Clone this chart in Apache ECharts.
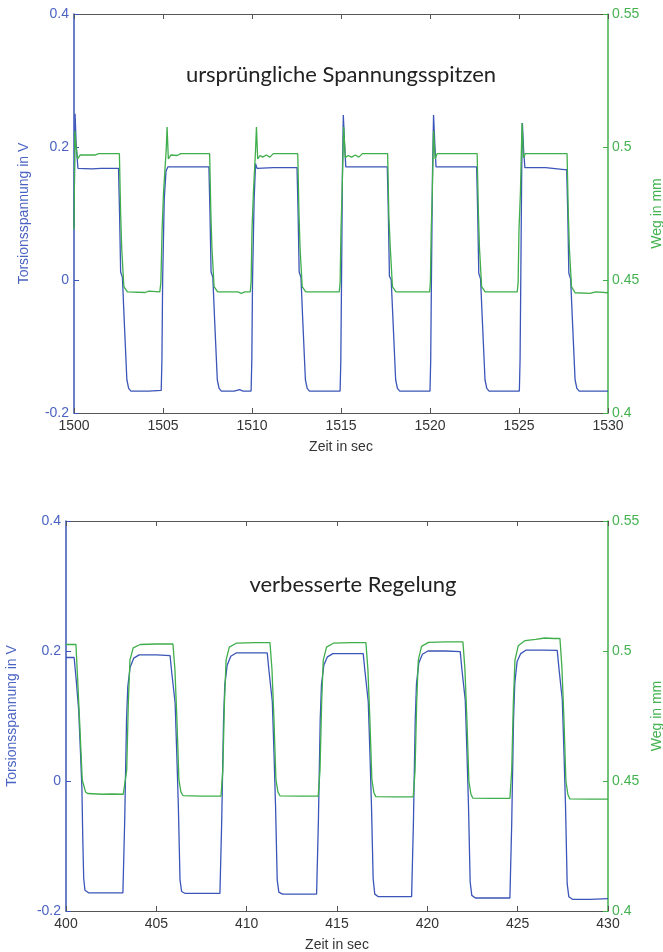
<!DOCTYPE html>
<html>
<head>
<meta charset="utf-8">
<script src="https://cdn.jsdelivr.net/npm/echarts@6/dist/echarts.min.js"></script>
<style>
  html, body { margin: 0; padding: 0; background: #fff; }
  #chart { width: 663px; height: 952px; }
</style>
</head>
<body>
<div id="chart"></div>
<script>
// top panel: original control, 1500..1530 s
const topVoltT = [1500.00, 1500.06, 1500.12, 1500.22, 1501.00, 1501.50, 1502.50, 1502.56, 1502.62, 1502.72, 1502.82, 1502.97, 1503.07, 1503.20, 1504.20, 1504.90, 1504.94, 1504.98, 1505.07, 1505.17, 1505.27, 1506.20,
  1507.58, 1507.64, 1507.70, 1507.80, 1507.90, 1508.05, 1508.15, 1508.28, 1509.00, 1509.30, 1509.50, 1509.95, 1509.99, 1510.03, 1510.12, 1510.20, 1510.28, 1511.20,
  1512.53, 1512.59, 1512.65, 1512.75, 1512.85, 1513.00, 1513.10, 1513.23, 1514.95, 1514.99, 1515.03, 1515.08, 1515.13, 1515.20, 1515.27, 1516.50,
  1517.60, 1517.66, 1517.72, 1517.82, 1517.92, 1518.07, 1518.17, 1518.30, 1520.00, 1520.04, 1520.08, 1520.14, 1520.20, 1520.27, 1520.34, 1521.50,
  1522.62, 1522.68, 1522.74, 1522.84, 1522.94, 1523.09, 1523.19, 1523.32, 1525.02, 1525.06, 1525.10, 1525.15, 1525.19, 1525.26, 1525.33, 1526.50,
  1527.55, 1527.68, 1527.74, 1527.80, 1527.90, 1528.00, 1528.15, 1528.25, 1528.38, 1530.00]
const topVolt = [0.080, 0.250, 0.205, 0.168, 0.167, 0.168, 0.168, 0.100, 0.012, 0.004, -0.060, -0.150, -0.163, -0.167, -0.167, -0.166, -0.120, 0.000, 0.122, 0.164, 0.170, 0.170,
  0.170, 0.100, 0.012, 0.004, -0.060, -0.150, -0.163, -0.167, -0.167, -0.165, -0.167, -0.167, -0.120, 0.000, 0.122, 0.175, 0.168, 0.169,
  0.169, 0.100, 0.012, 0.004, -0.060, -0.150, -0.163, -0.167, -0.167, -0.120, 0.000, 0.160, 0.248, 0.205, 0.170, 0.170,
  0.170, 0.100, 0.006, 0.000, -0.060, -0.150, -0.163, -0.167, -0.167, -0.120, 0.000, 0.160, 0.248, 0.205, 0.170, 0.170,
  0.170, 0.100, 0.010, 0.002, -0.060, -0.150, -0.163, -0.167, -0.167, -0.120, 0.000, 0.160, 0.236, 0.195, 0.169, 0.169,
  0.166, 0.166, 0.100, 0.010, 0.002, -0.060, -0.150, -0.163, -0.167, -0.167]

const topWegT = [1500.00, 1500.05, 1500.12, 1500.20, 1500.35, 1501.20, 1501.30, 1501.40, 1502.55, 1502.62, 1502.68, 1502.80, 1503.00, 1504.00, 1504.20, 1504.82, 1504.88, 1504.95, 1505.03, 1505.18, 1505.23, 1505.30, 1505.45, 1505.80, 1506.00,
  1507.62, 1507.69, 1507.75, 1507.87, 1508.07, 1509.20, 1509.40, 1509.60, 1509.90, 1509.95, 1510.00, 1510.08, 1510.20, 1510.25, 1510.32, 1510.45, 1510.60, 1510.80, 1511.00, 1511.20,
  1512.57, 1512.64, 1512.70, 1512.82, 1513.02, 1514.90, 1514.95, 1515.00, 1515.06, 1515.15, 1515.24, 1515.40, 1515.60, 1515.80, 1516.00, 1516.20,
  1517.62, 1517.69, 1517.77, 1517.89, 1518.09, 1519.98, 1520.02, 1520.07, 1520.13, 1520.20, 1520.29, 1520.40,
  1522.65, 1522.72, 1522.78, 1522.90, 1523.10, 1524.90, 1524.95, 1525.00, 1525.08, 1525.17, 1525.25, 1525.35,
  1527.70, 1527.77, 1527.83, 1527.95, 1528.15, 1529.00, 1529.30, 1530.00]
const topWeg = [0.469, 0.506, 0.500, 0.4955, 0.497, 0.497, 0.4965, 0.4975, 0.4975, 0.475, 0.462, 0.4475, 0.4455, 0.4453, 0.4458, 0.4455, 0.449, 0.469, 0.483, 0.499, 0.5075, 0.4955, 0.497, 0.4968, 0.4975,
  0.4975, 0.475, 0.462, 0.4475, 0.4455, 0.4455, 0.4450, 0.4455, 0.4455, 0.449, 0.469, 0.483, 0.499, 0.5075, 0.4955, 0.4968, 0.4962, 0.4970, 0.4962, 0.4975,
  0.4975, 0.475, 0.462, 0.4475, 0.4455, 0.4455, 0.449, 0.469, 0.483, 0.5075, 0.496, 0.4968, 0.4962, 0.4970, 0.4962, 0.4975,
  0.4975, 0.4737, 0.462, 0.4475, 0.4455, 0.4455, 0.449, 0.469, 0.483, 0.506, 0.4955, 0.4975,
  0.4975, 0.475, 0.462, 0.4475, 0.4455, 0.4455, 0.449, 0.469, 0.483, 0.509, 0.496, 0.4975,
  0.4975, 0.475, 0.462, 0.4475, 0.4452, 0.4450, 0.4455, 0.4452]

// bottom panel: improved control, 400..430 s
const botVoltT = [400.00, 400.45, 400.55, 400.70, 400.80, 400.88, 400.93, 400.98, 401.05, 401.25, 402.20, 403.15, 403.25, 403.35, 403.42, 403.55, 403.75, 404.05, 405.00,
  405.76, 405.86, 406.04, 406.13, 406.22, 406.31, 406.40, 406.60, 407.50, 408.52, 408.62, 408.72, 408.79, 408.92, 409.12, 409.42, 410.50,
  411.14, 411.24, 411.42, 411.51, 411.60, 411.69, 411.78, 411.98, 413.00, 413.87, 413.97, 414.07, 414.14, 414.27, 414.47, 414.77, 415.80,
  416.45, 416.55, 416.73, 416.82, 416.91, 417.00, 417.09, 417.29, 418.20, 419.13, 419.23, 419.33, 419.40, 419.53, 419.73, 420.03, 421.00,
  421.82, 421.92, 422.10, 422.19, 422.28, 422.37, 422.46, 422.66, 423.60, 424.57, 424.67, 424.77, 424.84, 424.97, 425.17, 425.47, 426.40,
  427.19, 427.29, 427.47, 427.56, 427.65, 427.74, 427.83, 428.03, 429.00, 430.00]
const botVolt = [0.190, 0.190, 0.160, 0.110, 0.045, -0.010, -0.090, -0.150, -0.168, -0.172, -0.172, -0.172, -0.060, 0.094, 0.145, 0.175, 0.189, 0.194, 0.194,
  0.193, 0.165, 0.120, 0.043, -0.040, -0.152, -0.170, -0.173, -0.173, -0.173, -0.060, 0.094, 0.148, 0.178, 0.192, 0.197, 0.197,
  0.197, 0.168, 0.122, 0.045, -0.040, -0.152, -0.171, -0.174, -0.174, -0.174, -0.062, 0.094, 0.148, 0.178, 0.191, 0.196, 0.196,
  0.196, 0.168, 0.122, 0.045, -0.040, -0.150, -0.174, -0.178, -0.178, -0.178, -0.064, 0.094, 0.150, 0.182, 0.195, 0.200, 0.200,
  0.199, 0.170, 0.124, 0.046, -0.040, -0.155, -0.176, -0.180, -0.180, -0.180, -0.066, 0.094, 0.150, 0.184, 0.196, 0.2015, 0.2015,
  0.201, 0.172, 0.125, 0.046, -0.040, -0.158, -0.178, -0.182, -0.182, -0.181]

const botWegT = [400.00, 400.55, 400.62, 400.75, 400.90, 401.08, 401.20, 402.00, 402.50, 403.17, 403.27, 403.36, 403.45, 403.54, 403.72, 404.10, 405.00,
  405.92, 406.03, 406.14, 406.25, 406.36, 406.47, 407.50, 408.58, 408.68, 408.77, 408.86, 409.04, 409.42, 410.50,
  411.29, 411.40, 411.51, 411.62, 411.73, 411.84, 413.00, 413.96, 414.06, 414.15, 414.24, 414.42, 414.80, 415.80,
  416.60, 416.71, 416.82, 416.93, 417.04, 417.15, 418.20, 419.22, 419.32, 419.41, 419.50, 419.68, 420.06, 421.00,
  421.97, 422.08, 422.19, 422.30, 422.41, 422.52, 423.60, 424.57, 424.67, 424.76, 424.85, 425.03, 425.41, 426.00, 426.50, 427.00,
  427.34, 427.45, 427.56, 427.67, 427.78, 427.89, 429.00, 430.00]
const botWeg = [0.5025, 0.5025, 0.4927, 0.4735, 0.4504, 0.4458, 0.4452, 0.4449, 0.4450, 0.4449, 0.4454, 0.4542, 0.4800, 0.4965, 0.5012, 0.5025, 0.5027,
  0.5027, 0.4927, 0.4735, 0.4504, 0.4458, 0.4444, 0.4442, 0.4442, 0.4542, 0.4800, 0.4965, 0.5015, 0.5030, 0.5032,
  0.5032, 0.4930, 0.4737, 0.4505, 0.4458, 0.4443, 0.4442, 0.4442, 0.4542, 0.4800, 0.4965, 0.5015, 0.5030, 0.5032,
  0.5032, 0.4930, 0.4737, 0.4505, 0.4456, 0.4440, 0.4439, 0.4439, 0.4540, 0.4800, 0.4965, 0.5018, 0.5033, 0.5035,
  0.5035, 0.4930, 0.4737, 0.4500, 0.4450, 0.4434, 0.4433, 0.4433, 0.4540, 0.4800, 0.4965, 0.5020, 0.5040, 0.5045, 0.5050, 0.5048,
  0.5048, 0.4935, 0.4740, 0.4500, 0.4448, 0.4431, 0.4430, 0.4430]

const topTicks = [1500, 1530, 5]
const botTicks = [400, 430, 5]
const voltRange = [-0.2, 0.4, 0.2]
const wegRange = [0.4, 0.55, 0.05]

const titleTop = 'ursprüngliche Spannungsspitzen'
const titleBot = 'verbesserte Regelung'

const BLUE = '#3b55b8'
const GREEN = '#3fae4b'
const BLUE_TXT = '#4a63c2'
const GREEN_TXT = '#44b250'
const GRAY = '#555'
const FONT = 'Liberation Sans'

const zip = (xs, ys) => xs.map((x, i) => [x, ys[i]])

const xAxisPair = (gridIndex, [min, max, interval]) => [
  {
    type: 'value', gridIndex, min, max, interval, position: 'bottom',
    name: 'Zeit in sec', nameLocation: 'middle', nameGap: 27,
    nameTextStyle: { color: '#333', fontSize: 14, fontFamily: FONT },
    axisLine: { onZero: false, lineStyle: { color: GRAY, width: 1 } },
    axisTick: { inside: true, length: 5, lineStyle: { color: GRAY } },
    axisLabel: { color: '#333', fontSize: 14, fontFamily: FONT, margin: 6, formatter: (v) => String(v) },
    splitLine: { show: false },
  },
  {
    type: 'value', gridIndex, min, max, interval, position: 'top',
    axisLine: { onZero: false, lineStyle: { color: GRAY, width: 1 } },
    axisTick: { inside: true, length: 5, lineStyle: { color: GRAY } },
    axisLabel: { show: false },
    splitLine: { show: false },
  },
]

const yAxisPair = (gridIndex, leftGap, rightGap) => [
  {
    type: 'value', gridIndex, min: voltRange[0], max: voltRange[1], interval: voltRange[2], position: 'left',
    name: 'Torsionsspannung in V', nameLocation: 'middle', nameGap: leftGap, nameRotate: 90,
    nameTextStyle: { color: BLUE_TXT, fontSize: 14, fontFamily: FONT },
    axisLine: { show: true, onZero: false, lineStyle: { color: BLUE, width: 1.5 } },
    axisTick: { inside: true, length: 5, lineStyle: { color: BLUE } },
    axisLabel: { color: BLUE_TXT, fontSize: 14, fontFamily: FONT, margin: 5 },
    splitLine: { show: false },
  },
  {
    type: 'value', gridIndex, min: wegRange[0], max: wegRange[1], interval: wegRange[2], position: 'right',
    name: 'Weg in mm', nameLocation: 'middle', nameGap: rightGap, nameRotate: 90,
    nameTextStyle: { color: GREEN_TXT, fontSize: 14, fontFamily: FONT },
    axisLine: { show: true, onZero: false, lineStyle: { color: GREEN, width: 1.5 } },
    axisTick: { inside: true, length: 5, lineStyle: { color: GREEN } },
    axisLabel: { color: GREEN_TXT, fontSize: 14, fontFamily: FONT, margin: 4 },
    splitLine: { show: false },
  },
]

const lineSeries = (name, data, xAxisIndex, yAxisIndex, color) => ({
  name, type: 'line', data, xAxisIndex, yAxisIndex,
  showSymbol: false, symbol: 'none',
  lineStyle: { color, width: 1.3 },
  itemStyle: { color },
  animation: false,
})

const option = {
  animation: false,
  grid: [
    { left: 74, top: 14, width: 534, height: 399, containLabel: false, outerBoundsMode: 'none' },
    { left: 66, top: 521, width: 542, height: 390, containLabel: false, outerBoundsMode: 'none' },
  ],
  xAxis: [...xAxisPair(0, topTicks), ...xAxisPair(1, botTicks)],
  yAxis: [...yAxisPair(0, 43, 42), ...yAxisPair(1, 47, 42)],
  series: [
    lineSeries('Torsionsspannung', zip(topVoltT, topVolt), 0, 0, BLUE),
    lineSeries('Weg', zip(topWegT, topWeg), 0, 1, GREEN),
    lineSeries('Torsionsspannung', zip(botVoltT, botVolt), 2, 2, BLUE),
    lineSeries('Weg', zip(botWegT, botWeg), 2, 3, GREEN),
  ],
  graphic: [
    {
      type: 'text', x: 341, y: 75,
      style: { text: titleTop, font: '22px Lato', fill: '#222', align: 'center', verticalAlign: 'middle' },
    },
    {
      type: 'text', x: 353, y: 585,
      style: { text: titleBot, font: '22px Lato', fill: '#222', align: 'center', verticalAlign: 'middle' },
    },
  ],
}

const chart = echarts.init(document.getElementById('chart'))
chart.setOption(option)
</script>
</body>
</html>
